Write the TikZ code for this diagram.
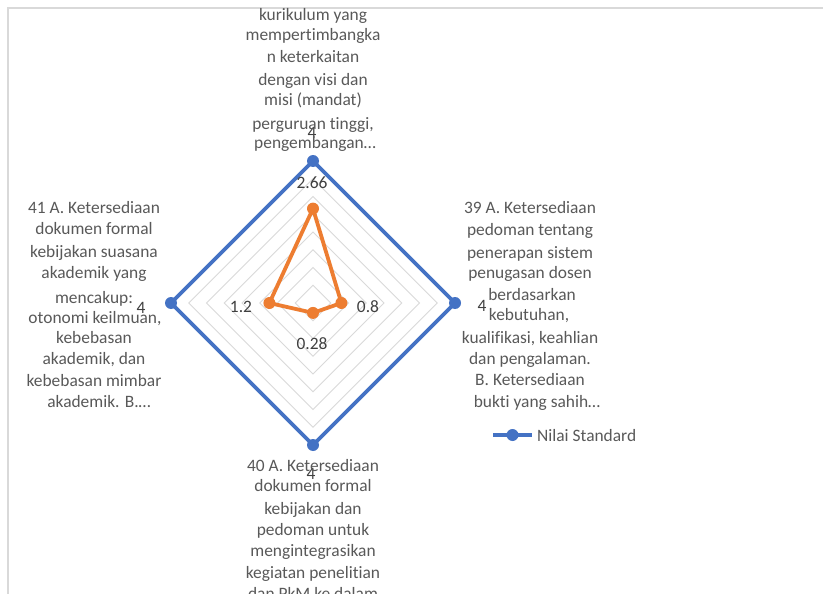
\documentclass[tikz,border=0pt]{standalone}
\usepackage{fontspec}
\setmainfont{Carlito}[Ligatures={NoCommon}]
\definecolor{blueS}{HTML}{4472C4}
\definecolor{orangeS}{HTML}{ED7D31}
\definecolor{gridc}{HTML}{D9D9D9}
\definecolor{labc}{HTML}{595959}
\definecolor{dlabc}{HTML}{404040}
\begin{document}
\begin{tikzpicture}[x=1pt,y=-1pt,
  cat/.style={font=\fontsize{17.4}{21}\selectfont, text=labc, anchor=base, inner sep=0pt},
  dlab/.style={font=\fontsize{17.4}{21}\selectfont, text=dlabc, anchor=base, inner sep=0pt},
  gridline/.style={draw=gridc, line width=1pt},
  bluel/.style={draw=blueS, line width=3.6pt, line join=round},
  orangel/.style={draw=orangeS, line width=3.8pt, line join=round},
  bluem/.style={circle, fill=blueS, minimum size=12pt, inner sep=0pt},
  orangem/.style={circle, fill=orangeS, minimum size=12pt, inner sep=0pt}]
\useasboundingbox (0,0) rectangle (823,594);
\clip (0,0) rectangle (823,594);
\fill[white] (0,0) rectangle (823,594);
\draw[draw=gridc, line width=1.5pt] (8,594) -- (8,8) -- (823,8);
% grid
\foreach \i in {1,...,7} {
  \pgfmathsetmacro\r{\i*17.75}
  \draw[gridline] (313,303-\r) -- (313+\r,303) -- (313,303+\r) -- (313-\r,303) -- cycle;
}
% standard series
\coordinate (T) at (313,161);
\coordinate (R) at (455,303);
\coordinate (B) at (313,445);
\coordinate (L) at (171,303);
\draw[bluel] (T) -- (R) -- (B) -- (L) -- cycle;
\foreach \p in {T,R,B,L} \node[bluem] (m\p) at (\p) {};
% actual series
\coordinate (oT) at (313,208.6);
\coordinate (oR) at (341.4,303);
\coordinate (oB) at (313,312.9);
\coordinate (oL) at (269.4,303);
\draw[orangel] (oT) -- (oR) -- (oB) -- (oL) -- cycle;
\foreach \p in {oT,oR,oB,oL} \node[orangem] (m\p) at (\p) {};
% data labels
\node[dlab] (dT) at (312,139) {4};
\node[dlab] (dR) at (482,311) {4};
\node[dlab] (dB) at (311,479) {4};
\node[dlab] (dL) at (141,313) {4};
\node[dlab] (doT) at (312,188) {2.66};
\node[dlab] (doR) at (368,312) {0.8};
\node[dlab] (doB) at (312,349) {0.28};
\node[dlab] (doL) at (241,312) {1.2};
% top category
\node[cat] (t1) at (313,21) {kurikulum yang};
\node[cat] (t2) at (313,41) {mempertimbangka};
\node[cat] (t3) at (313,63) {n keterkaitan};
\node[cat] (t4) at (313,85) {dengan visi dan};
\node[cat] (t5) at (313,106) {misi (mandat)};
\node[cat] (t6) at (313,129) {perguruan tinggi,};
\node[cat] (t7) at (315,149) {pengembangan…};
% left category
\node[cat] (l1) at (94,213) {41 A. Ketersediaan};
\node[cat] (l2) at (94,234) {dokumen formal};
\node[cat] (l3) at (94,257) {kebijakan suasana};
\node[cat] (l4) at (94,278) {akademik yang};
\node[cat] (l5) at (94,303) {mencakup:};
\node[cat] (l6) at (95,323) {otonomi keilmuan,};
\node[cat] (l7) at (94,343) {kebebasan};
\node[cat] (l8) at (94,364) {akademik, dan};
\node[cat] (l9) at (94,386) {kebebasan mimbar};
\node[cat] (l10) at (99,407) {akademik. B.…};
% right category
\node[cat] (r1) at (530,213) {39 A. Ketersediaan};
\node[cat] (r2) at (530,235) {pedoman tentang};
\node[cat] (r3) at (530,258) {penerapan sistem};
\node[cat] (r4) at (530,278) {penugasan dosen};
\node[cat] (r5) at (532,300) {berdasarkan};
\node[cat] (r6) at (529,320) {kebutuhan,};
\node[cat] (r7) at (530,343) {kualifikasi, keahlian};
\node[cat] (r8) at (530,364) {dan pengalaman.};
\node[cat] (r9) at (530,385) {B. Ketersediaan};
\node[cat] (r10) at (537,407) {bukti yang sahih…};
% bottom category
\node[cat] (b1) at (313,471) {40 A. Ketersediaan};
\node[cat] (b2) at (313,491) {dokumen formal};
\node[cat] (b3) at (313,514) {kebijakan dan};
\node[cat] (b4) at (313,535) {pedoman untuk};
\node[cat] (b5) at (313,556) {mengintegrasikan};
\node[cat] (b6) at (313,578) {kegiatan penelitian};
\node[cat] (b7) at (313,599) {dan PkM ke dalam};
% legend
\coordinate (lg1) at (493,435);
\coordinate (lg2) at (532,435);
\draw[bluel] (lg1) -- (lg2);
\node[bluem] (lgm) at (512.5,435) {};
\node[cat, anchor=base west] (lgt) at (537,441) {Nilai Standard};
\end{tikzpicture}
\end{document}
